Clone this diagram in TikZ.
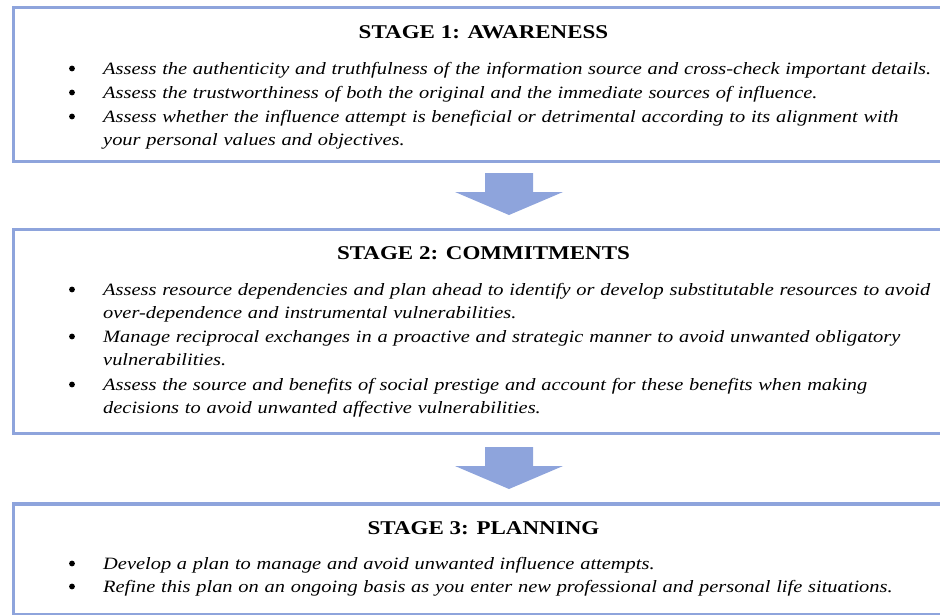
\documentclass[tikz,border=0pt]{standalone}
\usepackage{fontspec}
\setmainfont{Liberation Serif}[FakeStretch=1.18]
\usetikzlibrary{calc,positioning}
\definecolor{stageblue}{RGB}{142,164,220}
\newcommand{\titlefont}{\fontsize{19.5}{22}\selectfont\bfseries}
\newcommand{\itemfont}{\fontsize{17.3}{23.5}\selectfont\itshape}
\tikzset{
    stagebox/.style={draw=stageblue, line width=3.5pt, fill=white, anchor=north west, inner sep=0pt, outer sep=0pt},
    stagetitle/.style={font=\titlefont, anchor=base, inner sep=0pt},
    stageitem/.style={font=\itemfont, anchor=base west, text width=900pt, align=left, inner sep=0pt},
}
\newcommand{\stageitem}[3]{%
    \node[stageitem] (#1) at (103,#2) {#3};
    \fill ($(#1.base west)+(-31,-5.5)$) circle [radius=2.9pt];
}
\newcommand{\stagearrow}[2]{%
    \coordinate (#1) at #2;
    \fill[stageblue] (#1) ++(-24,0) -- ++(48,0) -- ++(0,19) -- ++(30,0) -- ++(-54,23) -- ++(-54,-23) -- ++(30,0) -- cycle;
}

\begin{document}
\begin{tikzpicture}[x=1pt,y=-1pt]

        \useasboundingbox (0,0) rectangle (940,614);
        \clip (0,0) rectangle (940,614);

        % Draw stage boxes.
        \node[stagebox, minimum width=946.5pt, minimum height=154pt] (s1) at (13.5,7.5) {};
        \node[stagebox, minimum width=946.5pt, minimum height=204pt] (s2) at (13.5,229.5) {};
        \node[stagebox, minimum width=946.5pt, minimum height=111pt] (s3) at (13.5,504) {};

        % Draw arrows between stages.
        \stagearrow{a1}{($(s1.south west)+(495.5,11.5)$)}
        \stagearrow{a2}{($(s2.south west)+(495.5,13.5)$)}

        % Stage titles.
        \node[stagetitle] (t1) at (483.5,38) {STAGE 1: AWARENESS};
        \node[stagetitle] (t2) at (483.5,259) {STAGE 2: COMMITMENTS};
        \node[stagetitle] (t3) at (483.5,534) {STAGE 3: PLANNING};

        % Stage 1 items.
        \stageitem{i11}{74}{Assess the authenticity and truthfulness of the information source and cross-check important details.}
        \stageitem{i12}{98}{Assess the trustworthiness of both the original and the immediate sources of influence.}
        \stageitem{i13}{122}{Assess whether the influence attempt is beneficial or detrimental according to its alignment with\\your personal values and objectives.}

        % Stage 2 items.
        \stageitem{i21}{295}{Assess resource dependencies and plan ahead to identify or develop substitutable resources to avoid\\over-dependence and instrumental vulnerabilities.}
        \stageitem{i22}{342}{Manage reciprocal exchanges in a proactive and strategic manner to avoid unwanted obligatory\\vulnerabilities.}
        \stageitem{i23}{390}{Assess the source and benefits of social prestige and account for these benefits when making\\decisions to avoid unwanted affective vulnerabilities.}

        % Stage 3 items.
        \stageitem{i31}{569}{Develop a plan to manage and avoid unwanted influence attempts.}
        \stageitem{i32}{592}{Refine this plan on an ongoing basis as you enter new professional and personal life situations.}

\end{tikzpicture}
\end{document}
